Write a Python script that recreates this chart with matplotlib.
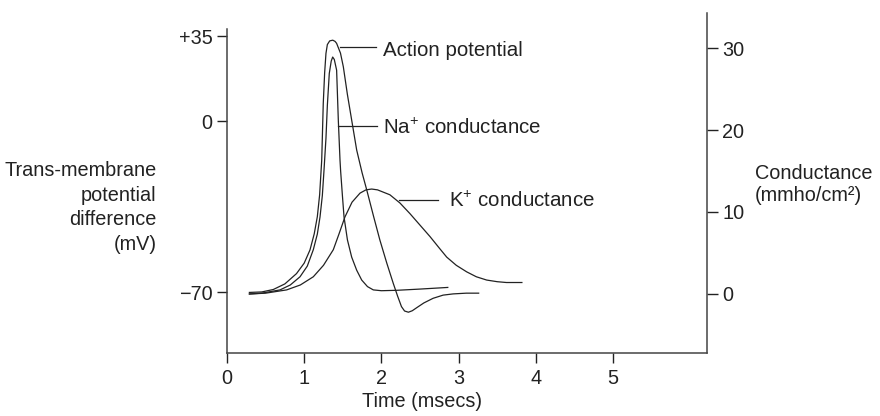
import matplotlib.pyplot as plt

plt.rcParams['font.family'] = ['Liberation Sans', 'DejaVu Sans']
plt.rcParams['mathtext.fontset'] = 'custom'
plt.rcParams['mathtext.rm'] = 'Liberation Sans'

# action potential (mV, left axis)
t_ap = [0.29, 0.45, 0.60, 0.75, 0.90, 1.00, 1.075, 1.13, 1.17, 1.20, 1.227, 1.247,
        1.265, 1.282, 1.30, 1.33, 1.37, 1.40, 1.42, 1.47, 1.507, 1.56, 1.615, 1.68,
        1.75, 1.81, 1.90, 1.98, 2.07, 2.154, 2.21, 2.26, 2.30, 2.35, 2.40, 2.46,
        2.55, 2.67, 2.80, 2.93, 3.10, 3.26]
v_ap = [-70.0, -69.8, -68.8, -66.5, -62.3, -58.0, -52.6, -46.0, -39.0, -30.0, -15.8, 7.4,
        20.0, 27.9, 31.5, 33.0, 33.3, 32.8, 32.0, 28.0, 22.4, 11.0, 0.6, -11.7,
        -21.0, -28.0, -39.0, -48.5, -58.0, -66.3, -71.5, -75.8, -77.6, -78.1, -77.5, -76.2,
        -74.3, -72.4, -71.1, -70.6, -70.3, -70.3]

# Na+ conductance (mmho/cm2, right axis)
t_na = [0.29, 0.45, 0.687, 0.82, 0.946, 1.04, 1.118, 1.17, 1.205, 1.235, 1.256, 1.282,
        1.30, 1.325, 1.35, 1.369, 1.39, 1.42, 1.442, 1.464, 1.472, 1.495, 1.516, 1.56,
        1.615, 1.68, 1.745, 1.82, 1.895, 2.0, 2.2, 2.5, 2.86]
g_na = [0.0, 0.1, 0.5, 1.1, 2.1, 3.4, 5.4, 7.3, 9.4, 12.0, 15.0, 19.0,
        23.0, 26.9, 28.4, 28.9, 28.6, 27.3, 21.2, 16.3, 15.0, 12.0, 9.4, 6.6,
        4.5, 2.9, 1.7, 0.9, 0.5, 0.4, 0.45, 0.6, 0.8]

# K+ conductance (mmho/cm2, right axis)
t_k = [0.29, 0.50, 0.773, 0.95, 1.118, 1.25, 1.377, 1.45, 1.528, 1.62, 1.723, 1.80,
       1.874, 1.95, 2.11, 2.24, 2.37, 2.50, 2.63, 2.75, 2.846, 2.97, 3.105, 3.23,
       3.364, 3.50, 3.62, 3.82]
g_k = [0.0, 0.1, 0.5, 1.1, 2.1, 3.5, 5.4, 7.3, 9.4, 11.2, 12.3, 12.7,
       12.8, 12.7, 12.1, 11.1, 9.8, 8.4, 7.0, 5.6, 4.5, 3.5, 2.7, 2.1,
       1.7, 1.5, 1.4, 1.4]

time_ticks = [0, 1, 2, 3, 4, 5]
mv_ticks = [-70, 0, 35]
mv_labels = ['\u221270', '0', '+35']
g_ticks = [0, 10, 20, 30]

ink = '#222222'
fs = 14.3
fig = plt.figure(figsize=(8.8, 4.16), dpi=100)
ax = fig.add_axes([227 / 880, 63.3 / 416, 480 / 880, 339.7 / 416])
ax2 = ax.twinx()

ax.set_xlim(0, 6.218)
ax.set_ylim(-94.68, 44.43)
ax2.set_ylim(-7.16, 34.27)

ax.plot(t_ap, v_ap, color=ink, lw=0.9)
ax2.plot(t_na, g_na, color=ink, lw=0.9)
ax2.plot(t_k, g_k, color=ink, lw=0.9)

for s in ['top', 'right']:
    ax.spines[s].set_visible(False)
for s in ['top', 'left', 'bottom']:
    ax2.spines[s].set_visible(False)
ax.spines['left'].set_bounds(-94.68, 37.9)
for sp in [ax.spines['left'], ax.spines['bottom'], ax2.spines['right']]:
    sp.set_color('#444444')
    sp.set_linewidth(1.1)

ax.set_xticks(time_ticks)
ax.set_yticks(mv_ticks)
ax.set_yticklabels(mv_labels)
ax2.set_yticks(g_ticks)
ax.tick_params(axis='x', length=7, width=1, pad=4.5, labelsize=fs, colors=ink)
ax.tick_params(axis='y', length=7, width=1, pad=3.5, labelsize=fs, colors=ink)
ax2.tick_params(axis='y', length=8, width=1, pad=3, labelsize=fs, colors=ink)

# leader lines + labels
ax.plot([1.464, 1.93], [30.6, 30.6], color=ink, lw=0.9)
ax.text(2.017, 26.9, 'Action potential', fontsize=14.8, color=ink, va='baseline')
ax2.plot([1.44, 1.94], [20.5, 20.5], color=ink, lw=0.9)
ax2.text(2.025, 19.5, 'Na$^{\\mathregular{+}}$ conductance', fontsize=14.8, color=ink,
         va='baseline')
ax2.plot([2.232, 2.737], [11.46, 11.46], color=ink, lw=0.9)
ax2.text(2.88, 10.6, 'K$^{\\mathregular{+}}$ conductance', fontsize=14.8, color=ink,
         va='baseline')

# axis titles
left_lines = ['Trans-membrane', 'potential', 'difference', '(mV)']
for i, line in enumerate(left_lines):
    fig.text(156.7 / 880, 1 - (176 + 24.7 * i) / 416, line, fontsize=fs,
             color=ink, ha='right', va='baseline')
fig.text(755 / 880, 1 - 179.3 / 416, 'Conductance', fontsize=fs, color=ink,
         va='baseline')
fig.text(755 / 880, 1 - 201 / 416, '(mmho/cm\u00b2)', fontsize=fs, color=ink,
         va='baseline')
fig.text(421.7 / 880, 1 - 406.7 / 416, 'Time (msecs)', fontsize=fs, color=ink,
         ha='center', va='baseline')

fig.savefig('out.png', dpi=100)
